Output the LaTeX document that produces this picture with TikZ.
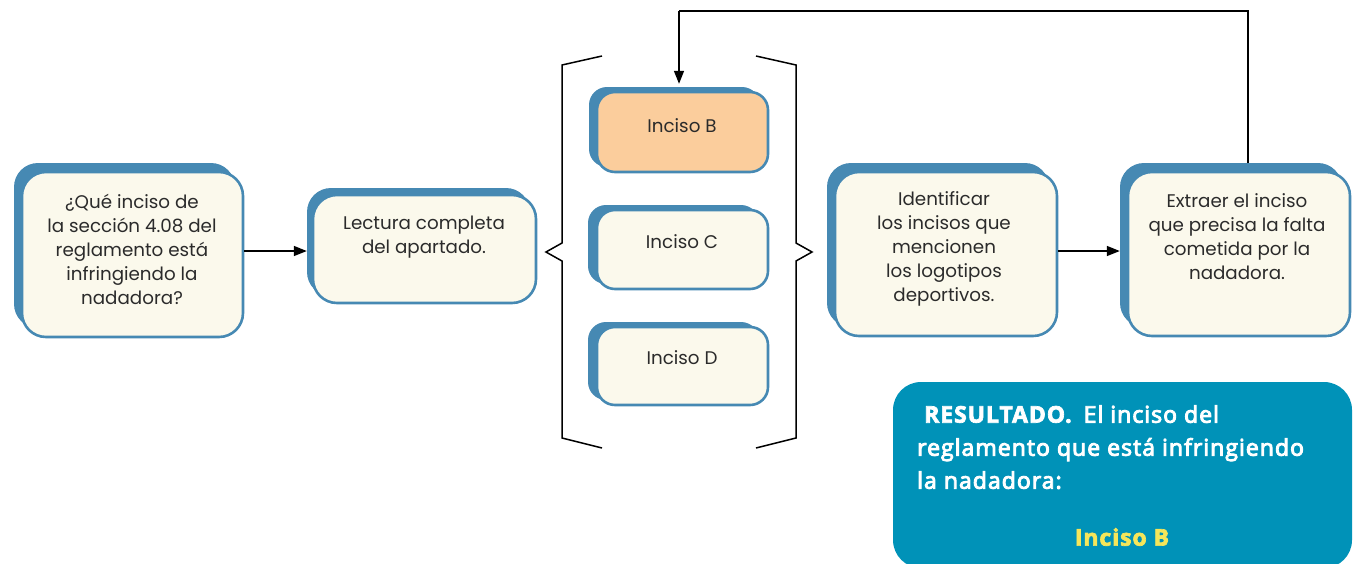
\documentclass[tikz,border=0pt]{standalone}
\usepackage{fontspec}
\setmainfont{Poppins}
\newfontfamily\resfont{Open Sans}[LetterSpace=4.5, FakeBold=4]
\newfontfamily\resbold{Open Sans Bold}[LetterSpace=4, FakeBold=3]
\usetikzlibrary{arrows.meta}
\definecolor{bblue}{HTML}{4689B3}
\definecolor{cream}{HTML}{FBF9EC}
\definecolor{peach}{HTML}{FBCD9C}
\definecolor{resblue}{HTML}{0092B8}
\definecolor{resyellow}{HTML}{F5E65A}
\definecolor{txt}{HTML}{2B2B2B}
\tikzset{
  backbox/.style={fill=bblue, draw=none, rounded corners=#1, inner sep=0pt},
  frontbox/.style={fill=cream, draw=bblue, line width=2.6pt, rounded corners=#1, inner sep=0pt},
  boxtext/.style={text=txt, align=center, inner sep=0pt, font=\fontsize{18.3}{24}\selectfont},
  arr/.style={line width=1.4pt, -{Triangle[length=13pt,width=10pt]}},
  bracket/.style={line width=1.5pt, line join=miter},
}
\begin{document}
\begin{tikzpicture}[x=1pt,y=-1pt]
\useasboundingbox (0,0) rectangle (1360,563);
% box 1
\node[backbox=24pt, minimum width=221pt, minimum height=165pt] (b1back) at (124.5,245.5) {};
\node[frontbox=24pt, minimum width=221pt, minimum height=165pt] (b1) at (132.5,254.5) {};
\node[boxtext] (t1) at (132,249) {¿Qué inciso de\\la sección 4.08 del\\reglamento está\\infringiendo la\\nadadora?};
% box 2
\node[backbox=24pt, minimum width=223pt, minimum height=108pt] (b2back) at (418.5,242) {};
\node[frontbox=24pt, minimum width=223pt, minimum height=108pt] (b2) at (424.5,249) {};
\node[boxtext] (t2) at (424,237) {Lectura completa\\del apartado.};
% inciso boxes
\node[backbox=18pt, minimum width=171pt, minimum height=80pt] (ibback) at (674.5,127) {};
\node[frontbox=18pt, minimum width=171pt, minimum height=80pt, fill=peach] (ib) at (682.5,132) {};
\node[boxtext] (tib) at (682,126) {Inciso B};
\node[backbox=18pt, minimum width=171pt, minimum height=79pt] (icback) at (673.5,244.5) {};
\node[frontbox=18pt, minimum width=171pt, minimum height=79pt] (ic) at (682.5,249.5) {};
\node[boxtext] (tic) at (682,242) {Inciso C};
\node[backbox=18pt, minimum width=171pt, minimum height=78pt] (idback) at (673.5,361) {};
\node[frontbox=18pt, minimum width=171pt, minimum height=78pt] (id) at (682.5,366) {};
\node[boxtext] (tid) at (682,358) {Inciso D};
% box 4
\node[backbox=24pt, minimum width=222pt, minimum height=164pt] (b4back) at (938,245) {};
\node[frontbox=24pt, minimum width=222pt, minimum height=164pt] (b4) at (946,254) {};
\node[boxtext] (t4) at (944,249) {Identificar\\los incisos que\\mencionen\\los logotipos\\deportivos.};
% box 5
\node[backbox=24pt, minimum width=222pt, minimum height=164pt] (b5back) at (1231,245) {};
\node[frontbox=24pt, minimum width=222pt, minimum height=164pt] (b5) at (1239,254) {};
\node[boxtext] (t5) at (1237,237) {Extraer el inciso\\que precisa la falta\\cometida por la\\nadadora.};
% brackets
\draw[bracket] (602,56) -- (562,65) -- (562,243) -- (546,252) -- (562,261) -- (562,438) -- (602,448);
\draw[bracket] (756,56) -- (796,65) -- (796,243) -- (812,252) -- (796,261) -- (796,438) -- (756,448);
% arrows
\coordinate (a1) at (0,251);
\draw[arr] (b1.east |- a1) -- (b2back.west |- a1);
\draw[arr] (b4.east |- a1) -- (b5back.west |- a1);
\coordinate (fbA) at (1248,11);
\coordinate (fbB) at (679,11);
\draw[line width=1.4pt] (fbA |- b5back.north) -- (fbA) -- (fbB);
\draw[arr] (fbB) -- ([yshift=3pt]fbB |- ibback.north);
% result box
\node[fill=resblue, rounded corners=28pt, minimum width=459pt, minimum height=186pt, inner sep=0pt] (res) at (1122.5,475) {};
\node[anchor=north west, align=left, text=white, inner sep=0pt, font=\resfont\fontsize{23}{33}\selectfont] (restxt) at (917,405)
  {\hspace{7pt}{\resbold RESULTADO.}\hspace{12pt}El inciso del\\reglamento que está infringiendo\\la nadadora:};
\node[text=resyellow, inner sep=0pt, font=\resbold\fontsize{23}{26}\selectfont] (resb) at (1122,537) {Inciso B};
\end{tikzpicture}
\end{document}
